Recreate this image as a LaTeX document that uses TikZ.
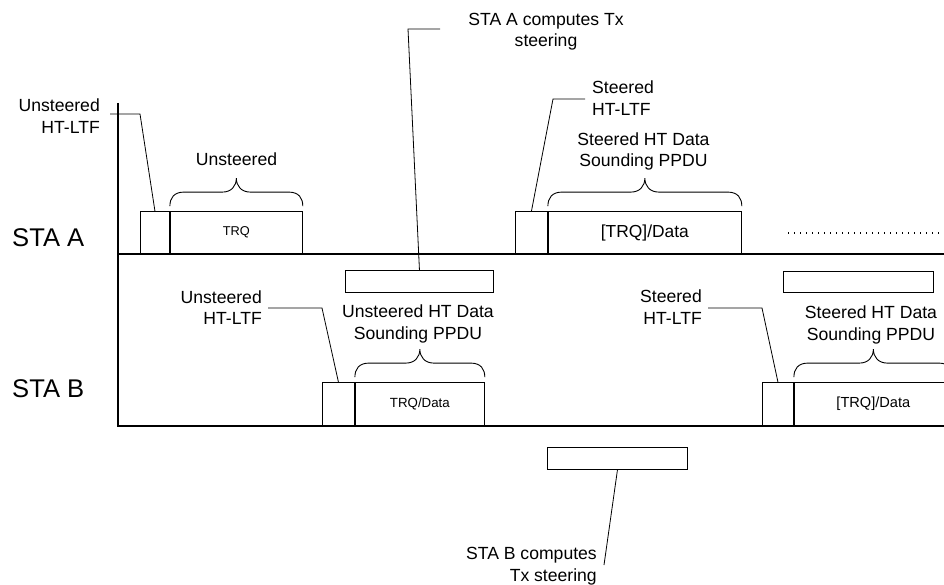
\documentclass[tikz,border=0pt]{standalone}
\usepackage{fontspec}
\setmainfont{Liberation Sans}
\usetikzlibrary{calc}
\newcommand\bracenode[1]{%
  \draw[brc] let \p1=(#1.north west), \p2=(#1.north east), \p3=($(#1.north west)!0.5!(#1.north east)$) in
   (\x1,\y1+5pt) .. controls (\x1,\y1+13pt) and (\x1+4pt,\y1+19pt) .. (\x1+14pt,\y1+19pt)
   -- (\x3-14pt,\y1+19pt) .. controls (\x3-5pt,\y1+19pt) and (\x3,\y1+25pt) .. (\x3,\y1+33pt)
   .. controls (\x3,\y1+25pt) and (\x3+5pt,\y1+19pt) .. (\x3+14pt,\y1+19pt)
   -- (\x2-14pt,\y1+19pt) .. controls (\x2-4pt,\y1+19pt) and (\x2,\y1+13pt) .. (\x2,\y1+5pt);}
\begin{document}
\begin{tikzpicture}[x=1pt,y=-1pt,
  box/.style={draw, line width=0.9pt, inner sep=0pt, anchor=south west},
  lead/.style={draw, line width=0.8pt},
  axis/.style={line width=1.6pt},
  lbl/.style={inner sep=0pt, font=\fontsize{17.6}{21.5}\selectfont},
  sta/.style={inner sep=0pt, anchor=west, font=\fontsize{25.6}{30}\selectfont},
  brc/.style={line width=0.9pt},
  dots/.style={line width=1.3pt, dash pattern=on 1.3pt off 4.7pt}]
\useasboundingbox (0,0) rectangle (944,585);
\clip (0,0) rectangle (944,585);

% ---- STA A frames
\node[box, minimum width=29pt, minimum height=42pt] (ltfA1) at (140,254) {};
\node[box, minimum width=132pt, minimum height=42pt, font=\fontsize{12.8}{14}\selectfont] (trqA) at (ltfA1.south east) {TRQ};
\node[box, minimum width=32pt, minimum height=42pt] (ltfA2) at (515,254) {};
\node[box, minimum width=193pt, minimum height=42pt, font=\fontsize{17.4}{20}\selectfont] (dataA2) at (ltfA2.south east) {[TRQ]/Data};
\node[box, minimum width=148pt, minimum height=22pt, anchor=north west] (compA) at (345,270) {};
\node[box, minimum width=150pt, minimum height=21pt, anchor=north west] (compB2) at (783,271) {};

% ---- STA B frames
\node[box, minimum width=32pt, minimum height=43pt] (ltfB1) at (322,426) {};
\node[box, minimum width=129pt, minimum height=43pt, font=\fontsize{13.3}{15}\selectfont] (dataB1) at (ltfB1.south east) {TRQ/Data};
\node[box, minimum width=31pt, minimum height=43pt] (ltfB2) at (762,426) {};
\node[box, minimum width=158pt, minimum height=43pt, font=\fontsize{14.6}{17}\selectfont] (dataB2) at (ltfB2.south east) {[TRQ]/Data};
\node[box, minimum width=140pt, minimum height=22pt, anchor=north west] (compB) at (547,447) {};

% ---- axes
\coordinate (axtop) at (118,103);
\coordinate (a0) at (118,254);
\coordinate (a1) at (950,254);
\coordinate (b0) at (118,426);
\coordinate (b1) at (950,426);
\draw[axis] (axtop) -- (b0) -- (b1);
\draw[axis] (a0) -- (a1);

\coordinate (d0) at (788,233);
\coordinate (d1) at (946,233);
\draw[dots] (d0) -- (d1);

% ---- station labels
\node[sta] (staA) at (12,237.8) {STA A};
\node[sta] (staB) at (12,388.3) {STA B};

% ---- braces
\bracenode{trqA}
\bracenode{dataA2}
\bracenode{dataB1}
\bracenode{dataB2}

% ---- labels
\node[lbl, anchor=base] (lUnsA) at (236.5,166) {Unsteered};
\node[lbl, align=right, anchor=east] (lUA) at (100,116) {Unsteered\\HT-LTF};
\node[lbl, align=center] (lCA) at (546,31.5) {STA A computes Tx\\steering};
\node[lbl, align=left, anchor=west] (lSA) at (592,98.3) {Steered\\HT-LTF};
\node[lbl, align=center] (lSDA) at (643.5,151.7) {Steered HT Data\\Sounding PPDU};
\node[lbl, align=right, anchor=east] (lUB) at (262,307.5) {Unsteered\\HT-LTF};
\node[lbl, align=center] (lUDB) at (418,324) {Unsteered HT Data\\Sounding PPDU};
\node[lbl, align=right, anchor=east] (lSB) at (702,307) {Steered\\HT-LTF};
\node[lbl, align=center] (lSDB) at (871,325) {Steered HT Data\\Sounding PPDU};
\node[lbl, align=right, anchor=east] (lCB) at (597,566) {STA B computes\\Tx steering};

% ---- leaders
\coordinate (kUA0) at (110,114);
\coordinate (kUA1) at (140,114);
\draw[lead] (kUA0) -- (kUA1) -- (ltfA1.north);
\coordinate (kCA0) at (440,29);
\coordinate (kCA1) at (408,29);
\draw[lead] (kCA0) -- (kCA1) -- (compA.north);
\coordinate (kSA0) at (585,99);
\coordinate (kSA1) at (553,99);
\draw[lead] (kSA0) -- (kSA1) -- (ltfA2.north);
\coordinate (kUB0) at (268,308);
\coordinate (kUB1) at (322,308);
\draw[lead] (kUB0) -- (kUB1) -- (ltfB1.north);
\coordinate (kSB0) at (708,308);
\coordinate (kSB1) at (762,308);
\draw[lead] (kSB0) -- (kSB1) -- (ltfB2.north);
\coordinate (kCB) at (604,565);
\draw[lead] (compB.south) -- (kCB);
\end{tikzpicture}
\end{document}
